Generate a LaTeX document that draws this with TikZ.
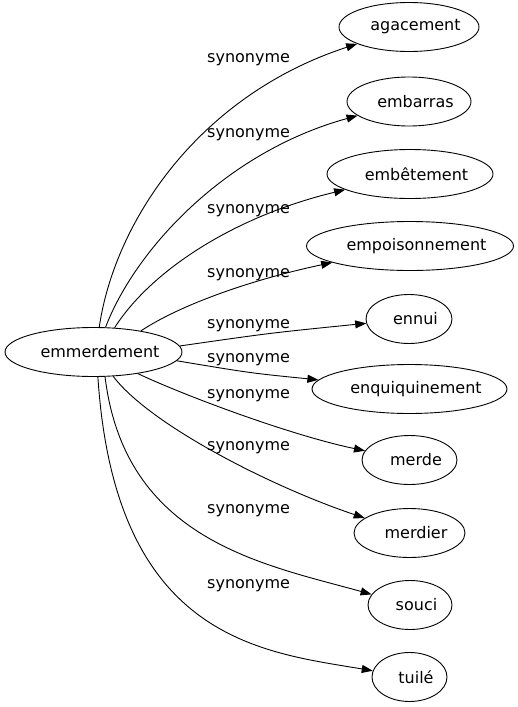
\documentclass[tikz,border=0pt]{standalone}
\usepackage{fontspec}
\setmainfont{DejaVu Sans}
\usetikzlibrary{arrows.meta,shapes.geometric}
\begin{document}
\begin{tikzpicture}[x=1pt,y=-1pt,
  every node/.style={font=\fontsize{16}{19}\selectfont},
  word/.style={draw=black,line width=0.9pt,ellipse,inner xsep=-6.5pt,inner ysep=0pt,minimum height=49pt,execute at begin node=\hspace*{13pt}},
  lbl/.style={anchor=base west,inner sep=0pt},
  edge/.style={draw=black,line width=0.9pt,-{Triangle[length=11pt,width=8pt]}}]
\useasboundingbox (0,0) rectangle (518,707);
\node[word,minimum width=177pt] (src) at (93.5,352) {emmerdement};
\node[word,minimum width=140pt] (t1) at (409,27) {agacement};
\node[word,minimum width=124pt] (t2) at (409,101.5) {embarras};
\node[word,minimum width=166pt] (t3) at (410,174) {embêtement};
\node[word,minimum width=207pt] (t4) at (410,246) {empoisonnement};
\node[word,minimum width=86pt] (t5) at (409,319) {ennui};
\node[word,minimum width=195pt] (t6) at (409.5,389) {enquiquinement};
\node[word,minimum width=95pt] (t7) at (409.5,460) {merde};
\node[word,minimum width=111pt] (t8) at (409.5,533) {merdier};
\node[word,minimum width=84pt] (t9) at (410,605) {souci};
\node[word,minimum width=75pt] (t10) at (409.5,677) {tuilé};
\draw[edge] (src.77) .. controls (115,220) and (200,95) .. (t1);
\draw[edge] (src.64) .. controls (135,250) and (225,152) .. (t2);
\draw[edge] (src.49) .. controls (150,272) and (232,217) .. (t3);
\draw[edge] (src.24) .. controls (180,305) and (250,280) .. (t4);
\draw[edge] (src.4) .. controls (270,333) .. (t5);
\draw[edge] (src.-6) .. controls (250,373) .. (t6);
\draw[edge] (src.-26) .. controls (190,398) and (294,436) .. (t7);
\draw[edge] (src.-51) .. controls (150,425) and (272,487) .. (t8);
\draw[edge] (src.-65) .. controls (125,540) and (262,564) .. (t9);
\draw[edge] (src.-80) .. controls (115,640) and (262,652) .. (t10);
\node[lbl] (l1) at (207,62) {synonyme};
\node[lbl] (l2) at (207,137) {synonyme};
\node[lbl] (l3) at (207,213) {synonyme};
\node[lbl] (l4) at (207,277) {synonyme};
\node[lbl] (l5) at (207,328) {synonyme};
\node[lbl] (l6) at (207,362) {synonyme};
\node[lbl] (l7) at (207,398) {synonyme};
\node[lbl] (l8) at (207,450) {synonyme};
\node[lbl] (l9) at (207,513) {synonyme};
\node[lbl] (l10) at (207,588) {synonyme};
\end{tikzpicture}
\end{document}
